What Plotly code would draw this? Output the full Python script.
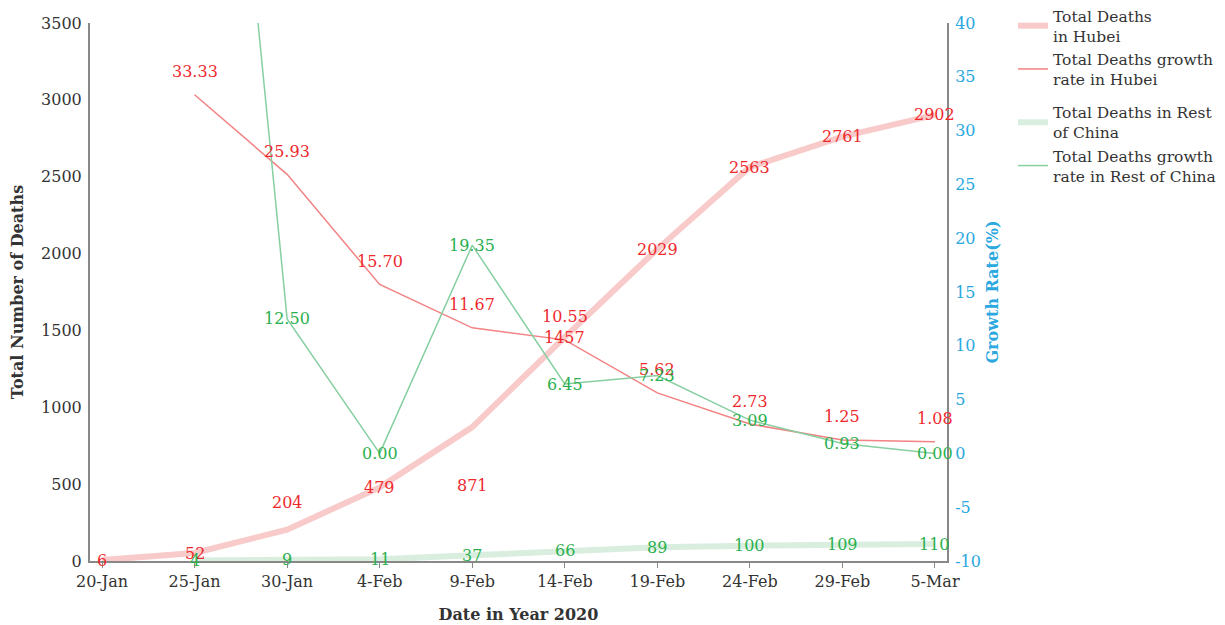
import plotly.graph_objects as go

dates = ["20-Jan", "25-Jan", "30-Jan", "4-Feb", "9-Feb", "14-Feb", "19-Feb", "24-Feb", "29-Feb", "5-Mar"]
hubei_deaths = [6, 52, 204, 479, 871, 1457, 2029, 2563, 2761, 2902]
hubei_growth = [None, 33.33, 25.93, 15.70, 11.67, 10.55, 5.62, 2.73, 1.25, 1.08]
rest_deaths = [None, 4, 9, 11, 37, 66, 89, 100, 109, 110]
rest_growth = [None, 100.00, 12.50, 0.00, 19.35, 6.45, 7.23, 3.09, 0.93, 0.00]
growth_ticks = [-10, -5, 0, 5, 10, 15, 20, 25, 30, 35, 40]

FONT = "DejaVu Serif"
FS = 16
RED_TXT = "#ee2a2f"
GREEN_TXT = "#2bb04e"
BLUE = "#2aa8df"
DARK = "#333333"

fig = go.Figure()
fig.add_trace(go.Scatter(x=dates, y=hubei_deaths, mode="lines", name="Total Deaths<br>in Hubei",
                         legendgroup="a", line=dict(color="#f8caca", width=6), yaxis="y"))
fig.add_trace(go.Scatter(x=dates, y=hubei_growth, mode="lines", name="Total Deaths growth<br>rate in Hubei",
                         legendgroup="a", line=dict(color="#f28283", width=1.5), yaxis="y2"))
fig.add_trace(go.Scatter(x=dates, y=rest_deaths, mode="lines", name="Total Deaths in Rest<br>of China",
                         legendgroup="b", line=dict(color="#d9eedf", width=6), yaxis="y"))
fig.add_trace(go.Scatter(x=dates, y=rest_growth, mode="lines", name="Total Deaths growth<br>rate in Rest of China",
                         legendgroup="b", line=dict(color="#86cfa0", width=1.5), yaxis="y2"))

# label placement tweaks (pixel shifts)
hubei_shift = {"30-Jan": 27, "9-Feb": -58}

annotations = []
def add_labels(xs, ys, yref, color, default_shift, fmt, overrides=None, ymax=None):
    for x, v in zip(xs, ys):
        if v is None:
            continue
        if ymax is not None and v > ymax:
            continue
        s = default_shift
        if overrides and x in overrides:
            s = overrides[x]
        annotations.append(dict(x=x, y=v, xref="x", yref=yref, text=fmt(v), showarrow=False,
                                yshift=s, font=dict(family=FONT, size=FS, color=color)))

add_labels(dates, hubei_deaths, "y", RED_TXT, 0, lambda v: str(v), hubei_shift)
add_labels(dates, hubei_growth, "y2", RED_TXT, 23, lambda v: f"{v:.2f}")
add_labels(dates, rest_deaths, "y", GREEN_TXT, 0, lambda v: str(v))
add_labels(dates, rest_growth, "y2", GREEN_TXT, 0, lambda v: f"{v:.2f}", ymax=40)

fig.update_layout(
    width=1217, height=617,
    margin=dict(l=82, r=278, t=15, b=64, autoexpand=False),
    plot_bgcolor="white", paper_bgcolor="white",
    font=dict(family=FONT, size=FS, color=DARK),
    annotations=annotations,
    showlegend=True,
    legend=dict(x=1.077, y=1.0446, xanchor="left", yanchor="top",
                font=dict(family=FONT, size=15.5, color=DARK),
                bgcolor="rgba(0,0,0,0)", tracegroupgap=10, traceorder="grouped"),
    xaxis=dict(type="category", range=[-0.13, 9.13], showline=True, linecolor="#888888", linewidth=2,
               ticks="outside", ticklen=5, tickcolor="#888888", showgrid=False, zeroline=False, automargin=False,
               tickfont=dict(family=FONT, size=FS, color=DARK),
               title=dict(text="<b>Date in Year 2020</b>", font=dict(family=FONT, size=FS, color=DARK), standoff=19)),
    yaxis=dict(range=[0, 3500], dtick=500, showline=True, linecolor="#888888", linewidth=2, automargin=False,
               showgrid=False, zeroline=False, ticks="outside", ticklen=3, tickcolor="rgba(0,0,0,0)",
               tickfont=dict(family=FONT, size=FS, color=DARK),
               title=dict(text="<b>Total Number of Deaths</b>", font=dict(family=FONT, size=FS, color=DARK), standoff=13)),
    yaxis2=dict(range=[-10, 40], tickmode="array", tickvals=growth_ticks, ticktext=[str(t) for t in growth_ticks],
                overlaying="y", side="right", showline=True, linecolor="#888888", automargin=False,
                linewidth=2, showgrid=False, zeroline=False, ticks="outside", ticklen=3, tickcolor="rgba(0,0,0,0)",
                tickfont=dict(family=FONT, size=FS, color=BLUE),
                title=dict(text="<b>Growth Rate(%)</b>", font=dict(family=FONT, size=FS, color=BLUE), standoff=7)),
)

fig.write_html("out.html")
